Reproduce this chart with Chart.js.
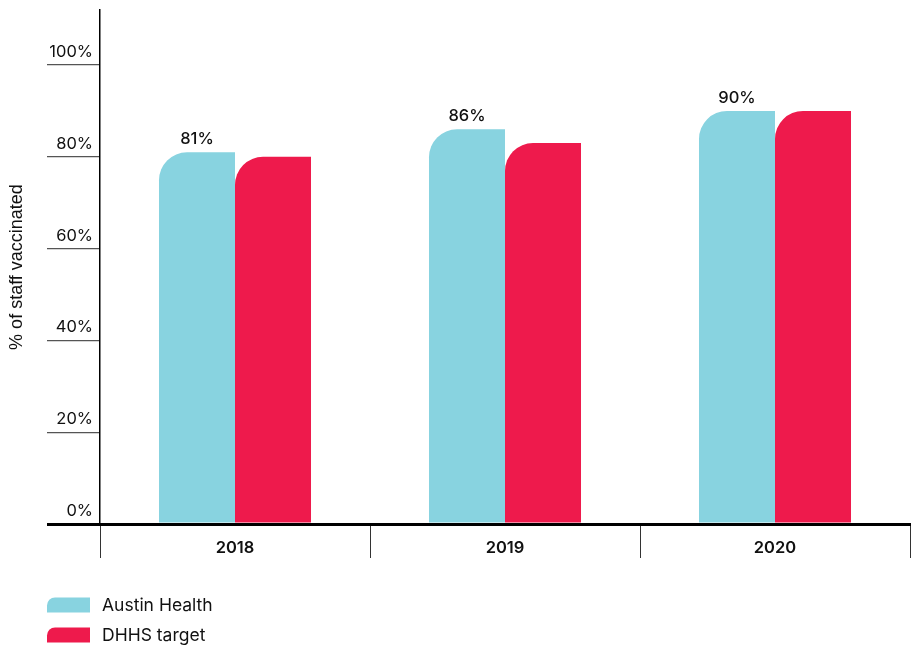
<!DOCTYPE html>
<html>
<head>
<meta charset="utf-8">
<script src="https://cdn.jsdelivr.net/npm/chart.js@4"></script>
<style>
	html, body { margin: 0; padding: 0; background: #fff; }
	#wrap { width: 913px; height: 645px; }
</style>
</head>
<body>
<div id="wrap"><canvas id="chartjs-canvas"></canvas></div>
<script>
const years = ['2018', '2019', '2020'];
const austinHealth = [81, 86, 90];
const dhhsTarget = [80, 83, 90];
const yTicks = [0, 20, 40, 60, 80, 100];

const FONT = 'Inter, "Open Sans", sans-serif';
const BLUE = '#88d3e0';
const RED = '#ee1a4c';

// value labels above the Austin Health bars
const valueLabels = {
	id: 'valueLabels',
	afterDatasetsDraw: chart => {
		const ctx = chart.ctx;
		const meta = chart.getDatasetMeta(0);
		ctx.save();
		ctx.font = `500 16.5px ${FONT}`;
		ctx.fillStyle = '#111';
		ctx.textAlign = 'center';
		ctx.textBaseline = 'bottom';
		meta.data.forEach((bar, i) => {
			ctx.fillText(`${chart.data.datasets[0].data[i]}%`, bar.x, bar.y - 5);
		});
		ctx.restore();
	}
};

// legend at the bottom left with the same rounded corner as the bars
const bottomLegend = {
	id: 'bottomLegend',
	afterDraw: chart => {
		const ctx = chart.ctx;
		ctx.save();
		ctx.font = `400 17.5px ${FONT}`;
		ctx.textBaseline = 'middle';
		ctx.textAlign = 'left';
		chart.data.datasets.forEach((ds, i) => {
			const y = 605 + i * 30;
			ctx.fillStyle = ds.backgroundColor;
			ctx.beginPath();
			ctx.roundRect(47, y - 7.5, 43, 15, [8, 0, 0, 0]);
			ctx.fill();
			ctx.fillStyle = '#111';
			ctx.fillText(ds.label, 102, y + 1);
		});
		ctx.restore();
	}
};

const barStyle = {
	borderRadius: {topLeft: 28, topRight: 0, bottomLeft: 0, bottomRight: 0},
	borderSkipped: false,
	categoryPercentage: 0.563,
	barPercentage: 1
};

const config = {
	type: 'bar',
	data: {
		labels: years,
		datasets: [{
			label: 'Austin Health',
			data: austinHealth,
			backgroundColor: BLUE,
			...barStyle
		}, {
			label: 'DHHS target',
			data: dhhsTarget,
			backgroundColor: RED,
			...barStyle
		}]
	},
	options: {
		responsive: true,
		maintainAspectRatio: false,
		animation: false,
		layout: {
			padding: {top: 10, right: 3, bottom: 81, left: 0}
		},
		plugins: {
			legend: {display: false},
			tooltip: {enabled: false}
		},
		scales: {
			x: {
				afterFit: scale => { scale.height = 40; },
				border: {display: true, color: '#000', width: 3},
				grid: {
					offset: true,
					drawOnChartArea: false,
					drawTicks: true,
					tickLength: 34,
					color: '#333',
					lineWidth: 1
				},
				ticks: {
					padding: -20,
					color: '#111',
					font: {family: FONT, size: 16.5, weight: 600}
				}
			},
			y: {
				min: 0,
				max: 112,
				afterFit: scale => { scale.width = 100; },
				afterBuildTicks: scale => {
					scale.ticks = yTicks.map(v => ({value: v}));
				},
				border: {display: true, color: '#000', width: 1.5},
				grid: {
					drawOnChartArea: false,
					drawTicks: true,
					tickLength: 53,
					color: ctx => ctx.tick && ctx.tick.value === 0 ? '#000' : '#555',
					lineWidth: ctx => ctx.tick && ctx.tick.value === 0 ? 3 : 1.2
				},
				ticks: {
					padding: -46,
					labelOffset: -13,
					color: '#111',
					font: {family: FONT, size: 16.5, weight: 400},
					callback: v => `${v}%`
				},
				title: {
					display: true,
					text: '% of staff vaccinated',
					color: '#111',
					padding: {top: 6, bottom: 0},
					font: {family: '"Liberation Sans", Arial, sans-serif', size: 18}
				}
			}
		}
	},
	plugins: [valueLabels, bottomLegend]
};

const currentChart = new Chart(document.getElementById('chartjs-canvas'), config);
</script>
</body>
</html>
